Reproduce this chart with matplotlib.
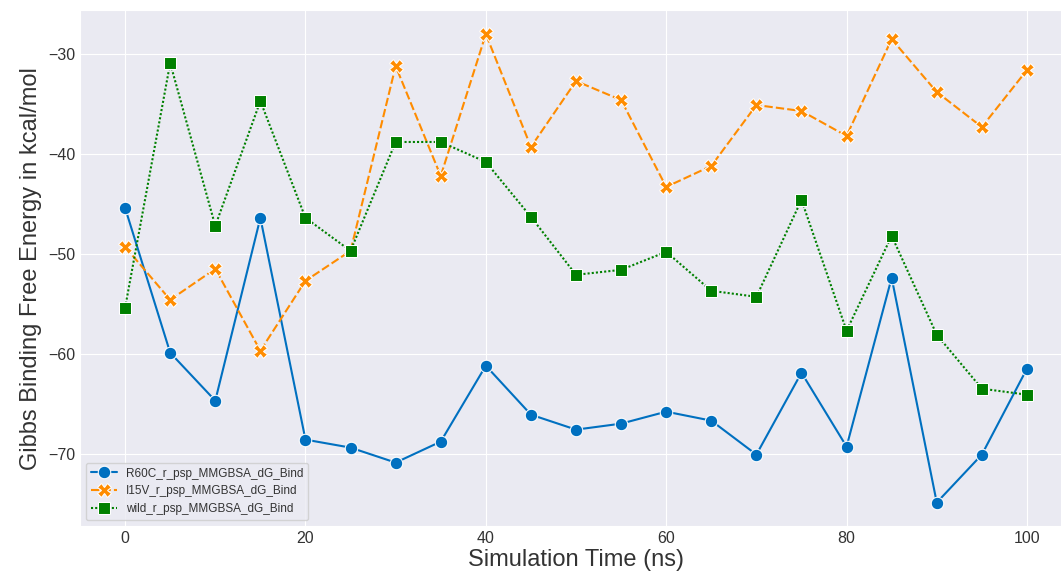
import numpy as np
import matplotlib
matplotlib.use("Agg")
import matplotlib.pyplot as plt
import seaborn as sns

# Gibbs binding free energy over simulation time

time_ns = [0, 5, 10, 15, 20, 25, 30, 35, 40, 45, 50, 55, 60, 65, 70, 75, 80, 85, 90, 95, 100]

r60c = [-45.4, -59.9, -64.7, -46.4, -68.6, -69.4, -70.9, -68.8, -61.2, -66.1, -67.6,
        -67.0, -65.8, -66.7, -70.1, -61.9, -69.3, -52.4, -74.9, -70.1, -61.5]
i15v = [-49.3, -54.6, -51.5, -59.7, -52.7, -49.7, -31.2, -42.2, -28.0, -39.3, -32.7,
        -34.6, -43.3, -41.2, -35.1, -35.7, -38.2, -28.5, -33.8, -37.3, -31.6]
wild = [-55.4, -30.9, -47.2, -34.7, -46.4, -49.7, -38.8, -38.8, -40.8, -46.3, -52.1,
        -51.6, -49.8, -53.7, -54.3, -44.6, -57.7, -48.2, -58.1, -63.5, -64.1]

labels = ['R60C_r_psp_MMGBSA_dG_Bind', 'I15V_r_psp_MMGBSA_dG_Bind', 'wild_r_psp_MMGBSA_dG_Bind']

sns.set_style("darkgrid")
plt.rcParams['font.family'] = ['Liberation Sans', 'DejaVu Sans']

fig = plt.figure(figsize=(10.61, 5.79), dpi=100)
ax = fig.add_axes([0.0754, 0.0915, 0.935, 0.891])

ax.plot(time_ns, r60c, color='#0070c0', lw=1.5, marker='o', ms=9,
        mec='white', mew=0.75, label=labels[0])
ax.plot(time_ns, i15v, color='#ff8c00', lw=1.5, marker='X', ms=10,
        mec='white', mew=0.75, dashes=(4, 1.5), label=labels[1])
ax.plot(time_ns, wild, color='#008000', lw=1.5, marker='s', ms=9,
        mec='white', mew=0.75, dashes=(1, 1), label=labels[2])

ax.set_xlim(-5, 105)
ax.set_ylim(-77.25, -25.6)
ax.set_xticks([0, 20, 40, 60, 80, 100])
ax.set_yticks([-30, -40, -50, -60, -70])
ax.tick_params(labelsize=11.5, labelcolor='#333333', length=0)

ax.set_xlabel('Simulation Time (ns)', fontsize=17, color='#333333', labelpad=2)
ax.set_ylabel('Gibbs Binding Free Energy in kcal/mol', fontsize=17, color='#333333', labelpad=4)

leg = ax.legend(loc='lower left', fontsize=8.5, handlelength=2.2, borderaxespad=0.5)
for t in leg.get_texts():
    t.set_color('#333333')

fig.savefig('out.png', dpi=100)
